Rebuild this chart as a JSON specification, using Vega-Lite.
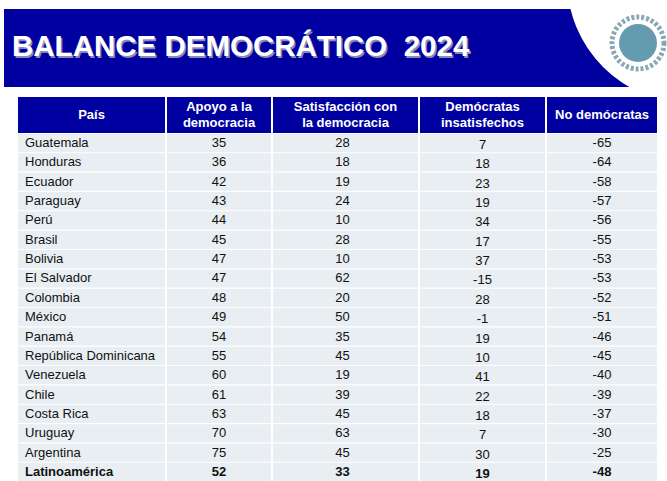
{
  "$schema": "https://vega.github.io/schema/vega-lite/v6.json",
  "background": "white",
  "padding": {"left": 4, "top": 9, "right": 0, "bottom": 0},
  "config": {"view": {"stroke": null}, "font": "Liberation Sans"},
  "datasets": {
    "tabla": [
      {"pais": "Guatemala", "apoyo": 35, "satisfaccion": 28, "insatisfechos": 7, "no_democratas": -65},
      {"pais": "Honduras", "apoyo": 36, "satisfaccion": 18, "insatisfechos": 18, "no_democratas": -64},
      {"pais": "Ecuador", "apoyo": 42, "satisfaccion": 19, "insatisfechos": 23, "no_democratas": -58},
      {"pais": "Paraguay", "apoyo": 43, "satisfaccion": 24, "insatisfechos": 19, "no_democratas": -57},
      {"pais": "Perú", "apoyo": 44, "satisfaccion": 10, "insatisfechos": 34, "no_democratas": -56},
      {"pais": "Brasil", "apoyo": 45, "satisfaccion": 28, "insatisfechos": 17, "no_democratas": -55},
      {"pais": "Bolivia", "apoyo": 47, "satisfaccion": 10, "insatisfechos": 37, "no_democratas": -53},
      {"pais": "El Salvador", "apoyo": 47, "satisfaccion": 62, "insatisfechos": -15, "no_democratas": -53},
      {"pais": "Colombia", "apoyo": 48, "satisfaccion": 20, "insatisfechos": 28, "no_democratas": -52},
      {"pais": "México", "apoyo": 49, "satisfaccion": 50, "insatisfechos": -1, "no_democratas": -51},
      {"pais": "Panamá", "apoyo": 54, "satisfaccion": 35, "insatisfechos": 19, "no_democratas": -46},
      {"pais": "República Dominicana", "apoyo": 55, "satisfaccion": 45, "insatisfechos": 10, "no_democratas": -45},
      {"pais": "Venezuela", "apoyo": 60, "satisfaccion": 19, "insatisfechos": 41, "no_democratas": -40},
      {"pais": "Chile", "apoyo": 61, "satisfaccion": 39, "insatisfechos": 22, "no_democratas": -39},
      {"pais": "Costa Rica", "apoyo": 63, "satisfaccion": 45, "insatisfechos": 18, "no_democratas": -37},
      {"pais": "Uruguay", "apoyo": 70, "satisfaccion": 63, "insatisfechos": 7, "no_democratas": -30},
      {"pais": "Argentina", "apoyo": 75, "satisfaccion": 45, "insatisfechos": 30, "no_democratas": -25},
      {"pais": "Latinoamérica", "apoyo": 52, "satisfaccion": 33, "insatisfechos": 19, "no_democratas": -48}
    ]
  },
  "spacing": 10,
  "vconcat": [
    {
      "width": 663,
      "height": 78,
      "view": {"fill": "#0000A0", "stroke": null},
      "data": {"values": [{"titulo": "BALANCE DEMOCRÁTICO\u00a0 2024"}]},
      "layer": [
        {
          "mark": {"type": "point", "shape": "circle", "filled": true, "color": "white", "opacity": 1, "size": 60516, "clip": true},
          "encoding": {
            "x": {"datum": 686, "type": "quantitative", "scale": {"domain": [0, 663], "nice": false, "zero": false}, "axis": null},
            "y": {"datum": -29, "type": "quantitative", "scale": {"domain": [0, 78], "reverse": true, "nice": false, "zero": false}, "axis": null}
          }
        },
        {
          "mark": {"type": "point", "shape": "circle", "filled": false, "stroke": "#3d6f82", "strokeWidth": 5, "strokeDash": [3, 2], "opacity": 0.6, "size": 2704, "clip": true},
          "encoding": {
            "x": {"datum": 634, "type": "quantitative"},
            "y": {"datum": 34, "type": "quantitative"}
          }
        },
        {
          "mark": {"type": "point", "shape": "circle", "filled": true, "color": "#4a8aa2", "opacity": 0.85, "size": 1444, "clip": true},
          "encoding": {
            "x": {"datum": 634, "type": "quantitative"},
            "y": {"datum": 34, "type": "quantitative"}
          }
        },
        {
          "mark": {"type": "text", "align": "left", "baseline": "middle", "fontSize": 29.5, "fontWeight": "bold", "color": "#8a8ab8", "dx": 1.5, "dy": 1.5},
          "encoding": {
            "text": {"field": "titulo", "type": "nominal"},
            "x": {"datum": 8, "type": "quantitative"},
            "y": {"datum": 38, "type": "quantitative"}
          }
        },
        {
          "mark": {"type": "text", "align": "left", "baseline": "middle", "fontSize": 29.5, "fontWeight": "bold", "color": "white"},
          "encoding": {
            "text": {"field": "titulo", "type": "nominal"},
            "x": {"datum": 8, "type": "quantitative"},
            "y": {"datum": 38, "type": "quantitative"}
          }
        }
      ]
    },
    {
      "spacing": 2,
      "hconcat": [
        {
          "width": 12,
          "height": 36,
          "data": {"values": [{}]},
          "mark": {"type": "rect", "opacity": 0},
          "encoding": {}
        },
        {
          "spacing": 1,
          "vconcat": [
            {
              "width": 147, "height": 36,
              "view": {"fill": "#0000A0", "stroke": null},
              "data": {"values": [{"h": "País"}]},
              "mark": {"type": "text", "color": "white", "fontWeight": "bold", "fontSize": 13, "lineBreak": "\n", "lineHeight": 16, "baseline": "middle"},
              "encoding": {"text": {"field": "h", "type": "nominal"}}
            },
            {
              "width": 147, "height": 347,
              "data": {"name": "tabla"},
              "encoding": {"y": {"field": "pais", "type": "nominal", "sort": null, "scale": {"paddingInner": 0.06, "paddingOuter": 0}, "axis": null}},
              "layer": [
                {"mark": {"type": "rect", "color": "#E8EEF2"}},
                {
                  "mark": {"type": "text", "fontSize": 13, "color": "#111111", "align": "left", "baseline": "middle"},
                  "encoding": {
                    "x": {"value": 7},
                    "text": {"field": "pais", "type": "nominal"},
                    "opacity": {"condition": {"test": "datum.pais === 'Latinoamérica'", "value": 0}, "value": 1}
                  }
                },
                {
                  "mark": {"type": "text", "fontSize": 13, "fontWeight": "bold", "color": "#111111", "align": "left", "baseline": "middle"},
                  "encoding": {
                    "x": {"value": 7},
                    "text": {"field": "pais", "type": "nominal"},
                    "opacity": {"condition": {"test": "datum.pais !== 'Latinoamérica'", "value": 0}, "value": 1}
                  }
                }
              ]
            }
          ]
        },
        {
          "spacing": 1,
          "vconcat": [
            {
              "width": 104, "height": 36,
              "view": {"fill": "#0000A0", "stroke": null},
              "data": {"values": [{"h": "Apoyo a la\ndemocracia"}]},
              "mark": {"type": "text", "color": "white", "fontWeight": "bold", "fontSize": 13, "lineBreak": "\n", "lineHeight": 16, "baseline": "middle", "dy": -8},
              "encoding": {"text": {"field": "h", "type": "nominal"}}
            },
            {
              "width": 104, "height": 347,
              "data": {"name": "tabla"},
              "encoding": {"y": {"field": "pais", "type": "nominal", "sort": null, "scale": {"paddingInner": 0.06, "paddingOuter": 0}, "axis": null}},
              "layer": [
                {"mark": {"type": "rect", "color": "#E8EEF2"}},
                {
                  "mark": {"type": "text", "fontSize": 13, "color": "#111111", "baseline": "middle"},
                  "encoding": {
                    "text": {"field": "apoyo", "type": "nominal"},
                    "opacity": {"condition": {"test": "datum.pais === 'Latinoamérica'", "value": 0}, "value": 1}
                  }
                },
                {
                  "mark": {"type": "text", "fontSize": 13, "fontWeight": "bold", "color": "#111111", "baseline": "middle"},
                  "encoding": {
                    "text": {"field": "apoyo", "type": "nominal"},
                    "opacity": {"condition": {"test": "datum.pais !== 'Latinoamérica'", "value": 0}, "value": 1}
                  }
                }
              ]
            }
          ]
        },
        {
          "spacing": 1,
          "vconcat": [
            {
              "width": 145, "height": 36,
              "view": {"fill": "#0000A0", "stroke": null},
              "data": {"values": [{"h": "Satisfacción con\nla democracia"}]},
              "mark": {"type": "text", "color": "white", "fontWeight": "bold", "fontSize": 13, "lineBreak": "\n", "lineHeight": 16, "baseline": "middle", "dy": -8},
              "encoding": {"text": {"field": "h", "type": "nominal"}}
            },
            {
              "width": 145, "height": 347,
              "data": {"name": "tabla"},
              "encoding": {"y": {"field": "pais", "type": "nominal", "sort": null, "scale": {"paddingInner": 0.06, "paddingOuter": 0}, "axis": null}},
              "layer": [
                {"mark": {"type": "rect", "color": "#E8EEF2"}},
                {
                  "mark": {"type": "text", "fontSize": 13, "color": "#111111", "baseline": "middle", "dx": -3},
                  "encoding": {
                    "text": {"field": "satisfaccion", "type": "nominal"},
                    "opacity": {"condition": {"test": "datum.pais === 'Latinoamérica'", "value": 0}, "value": 1}
                  }
                },
                {
                  "mark": {"type": "text", "fontSize": 13, "fontWeight": "bold", "color": "#111111", "baseline": "middle", "dx": -3},
                  "encoding": {
                    "text": {"field": "satisfaccion", "type": "nominal"},
                    "opacity": {"condition": {"test": "datum.pais !== 'Latinoamérica'", "value": 0}, "value": 1}
                  }
                }
              ]
            }
          ]
        },
        {
          "spacing": 1,
          "vconcat": [
            {
              "width": 125, "height": 36,
              "view": {"fill": "#0000A0", "stroke": null},
              "data": {"values": [{"h": "Demócratas\ninsatisfechos"}]},
              "mark": {"type": "text", "color": "white", "fontWeight": "bold", "fontSize": 13, "lineBreak": "\n", "lineHeight": 16, "baseline": "middle", "dy": -8},
              "encoding": {"text": {"field": "h", "type": "nominal"}}
            },
            {
              "width": 125, "height": 347,
              "data": {"name": "tabla"},
              "encoding": {"y": {"field": "pais", "type": "nominal", "sort": null, "scale": {"paddingInner": 0.06, "paddingOuter": 0}, "axis": null}},
              "layer": [
                {"mark": {"type": "rect", "color": "#E8EEF2"}},
                {
                  "mark": {"type": "text", "fontSize": 13, "color": "#111111", "baseline": "middle", "dy": 2},
                  "encoding": {
                    "text": {"field": "insatisfechos", "type": "nominal"},
                    "opacity": {"condition": {"test": "datum.pais === 'Latinoamérica'", "value": 0}, "value": 1}
                  }
                },
                {
                  "mark": {"type": "text", "fontSize": 13, "fontWeight": "bold", "color": "#111111", "baseline": "middle", "dy": 2},
                  "encoding": {
                    "text": {"field": "insatisfechos", "type": "nominal"},
                    "opacity": {"condition": {"test": "datum.pais !== 'Latinoamérica'", "value": 0}, "value": 1}
                  }
                }
              ]
            }
          ]
        },
        {
          "spacing": 1,
          "vconcat": [
            {
              "width": 110, "height": 36,
              "view": {"fill": "#0000A0", "stroke": null},
              "data": {"values": [{"h": "No demócratas"}]},
              "mark": {"type": "text", "color": "white", "fontWeight": "bold", "fontSize": 13, "lineBreak": "\n", "lineHeight": 16, "baseline": "middle"},
              "encoding": {"text": {"field": "h", "type": "nominal"}}
            },
            {
              "width": 110, "height": 347,
              "data": {"name": "tabla"},
              "encoding": {"y": {"field": "pais", "type": "nominal", "sort": null, "scale": {"paddingInner": 0.06, "paddingOuter": 0}, "axis": null}},
              "layer": [
                {"mark": {"type": "rect", "color": "#E8EEF2"}},
                {
                  "mark": {"type": "text", "fontSize": 13, "color": "#111111", "baseline": "middle"},
                  "encoding": {
                    "text": {"field": "no_democratas", "type": "nominal"},
                    "opacity": {"condition": {"test": "datum.pais === 'Latinoamérica'", "value": 0}, "value": 1}
                  }
                },
                {
                  "mark": {"type": "text", "fontSize": 13, "fontWeight": "bold", "color": "#111111", "baseline": "middle"},
                  "encoding": {
                    "text": {"field": "no_democratas", "type": "nominal"},
                    "opacity": {"condition": {"test": "datum.pais !== 'Latinoamérica'", "value": 0}, "value": 1}
                  }
                }
              ]
            }
          ]
        }
      ]
    }
  ]
}
